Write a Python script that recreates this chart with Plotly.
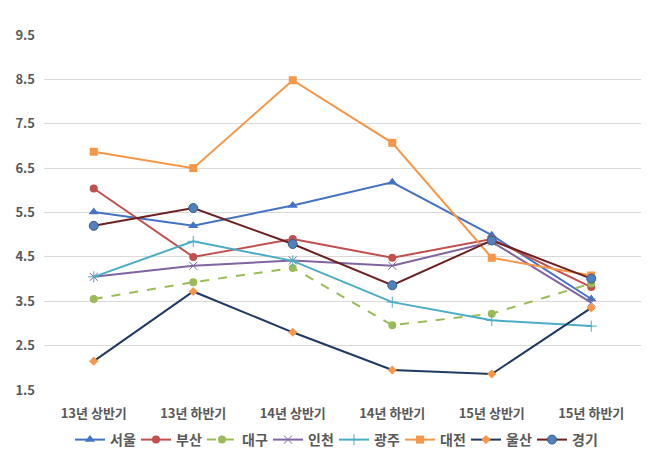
import plotly.graph_objects as go

categories = ["13년 상반기", "13년 하반기", "14년 상반기", "14년 하반기", "15년 상반기", "15년 하반기"]

seoul = [5.51, 5.2, 5.66, 6.18, 4.99, 3.55]
busan = [6.04, 4.5, 4.9, 4.48, 4.9, 3.82]
daegu = [3.55, 3.93, 4.25, 2.96, 3.22, 3.9]
incheon = [4.05, 4.3, 4.42, 4.3, 4.84, 3.47]
gwangju = [4.05, 4.85, 4.41, 3.48, 3.07, 2.94]
daejeon = [6.87, 6.5, 8.48, 7.07, 4.48, 4.08]
ulsan = [2.15, 3.72, 2.8, 1.95, 1.86, 3.35]
gyeonggi = [5.2, 5.6, 4.79, 3.86, 4.87, 4.01]

FONT = "Noto Sans CJK KR, Noto Sans, sans-serif"
TEXT = "#595959"

# page body has an 8px margin, so the figure is sized to fill the rest of the window
W, H = 643, 449
ML, MR, MT, MB = 36, 10, 27, 67
PW, PH = W - ML - MR, H - MT - MB

series = [
    ("서울", seoul, dict(color="#4472C4", width=2), dict(symbol="triangle-up", size=9, color="#4472C4")),
    ("부산", busan, dict(color="#C0504D", width=2), dict(symbol="circle", size=8, color="#C0504D")),
    ("대구", daegu, dict(color="#9BBB59", width=2, dash="dash"), dict(symbol="circle", size=8, color="#9BBB59")),
    ("인천", incheon, dict(color="#8064A2", width=2), dict(symbol="x-thin", size=8, color="#8064A2",
                                                           line=dict(color="#8064A2", width=1))),
    ("광주", gwangju, dict(color="#4BACC6", width=2), dict(symbol="cross-thin", size=8, color="#4BACC6",
                                                           line=dict(color="#4BACC6", width=1))),
    ("대전", daejeon, dict(color="#F79646", width=2), dict(symbol="square", size=8, color="#F79646")),
    ("울산", ulsan, dict(color="#1F3864", width=2), dict(symbol="diamond", size=7, color="#F79646")),
    ("경기", gyeonggi, dict(color="#6E1F1F", width=2), dict(symbol="circle", size=9, color="#4F81BD",
                                                           line=dict(color="#385D8A", width=1))),
]

fig = go.Figure()
for name, vals, line, marker in series:
    fig.add_trace(go.Scatter(
        x=categories, y=vals, name=name, mode="lines+markers",
        line=line, marker=marker,
    ))

fig.update_layout(
    width=W, height=H,
    margin=dict(l=ML, r=MR, t=MT, b=MB, autoexpand=False),
    paper_bgcolor="white", plot_bgcolor="white",
    font=dict(family=FONT, size=13, color=TEXT, weight="bold"),
    showlegend=True,
    legend=dict(
        orientation="h", x=26 / PW, xanchor="left", y=-50 / PH, yanchor="middle",
        font=dict(family=FONT, size=14, color=TEXT, weight="bold"),
        itemwidth=30, tracegroupgap=0, entrywidth=21,
    ),
    xaxis=dict(
        type="category", range=[-0.5, 5.5], showgrid=False, showline=False, ticks="",
        ticklabelstandoff=14,
        tickfont=dict(family=FONT, size=13, color=TEXT, weight="bold"),
    ),
    yaxis=dict(
        range=[1.5, 9.5], tickvals=[1.5, 2.5, 3.5, 4.5, 5.5, 6.5, 7.5, 8.5, 9.5],
        tickformat=".1f", gridcolor="#D9D9D9", gridwidth=1, zeroline=False,
        showline=False, ticks="", ticklabelstandoff=8,
        tickfont=dict(family=FONT, size=13, color=TEXT, weight="bold"),
    ),
)

fig.write_html("out.html")
